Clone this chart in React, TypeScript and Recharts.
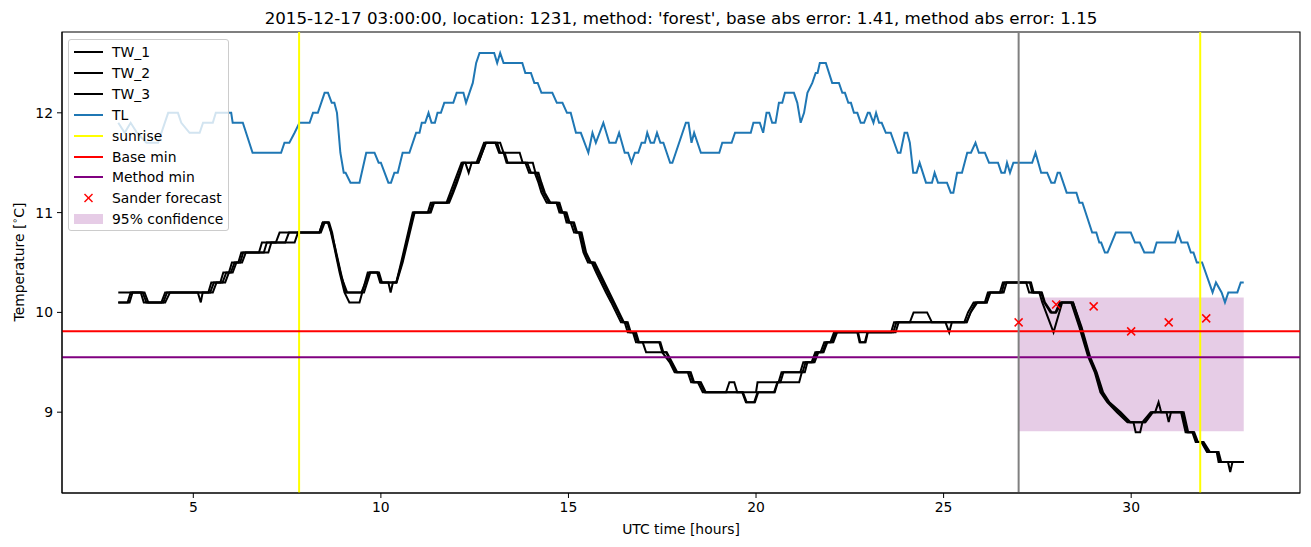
import React from 'react';
import {
    ComposedChart,
    Line,
    Scatter,
    XAxis,
    YAxis,
    ReferenceLine,
    ReferenceArea
} from 'recharts';

// water temperature sensors, [hour, degC]
const TW_1: [number, number][] = [
    [3.0, 10.2], [3.6, 10.2], [3.68, 10.1], [4.15, 10.1], [4.25, 10.2], [5.12, 10.2], [5.2, 10.1], [5.25, 10.2],
    [5.4, 10.2], [5.48, 10.3], [5.72, 10.3], [5.8, 10.4], [5.95, 10.4], [6.03, 10.5], [6.2, 10.5], [6.28, 10.6],
    [6.75, 10.6], [6.83, 10.7], [7.2, 10.7], [7.3, 10.8], [8.36, 10.8], [8.45, 10.9], [8.59, 10.9], [8.67, 10.8],
    [8.76, 10.65], [8.9, 10.4], [9.03, 10.2], [9.16, 10.1], [9.43, 10.1], [9.65, 10.4], [9.9, 10.4], [9.98, 10.3],
    [10.2, 10.3], [10.26, 10.2], [10.32, 10.3], [10.41, 10.3], [10.54, 10.5], [10.85, 11.0], [11.25, 11.0],
    [11.33, 11.1], [11.75, 11.1], [11.85, 11.2], [11.95, 11.3], [12.05, 11.4], [12.15, 11.5], [12.25, 11.5],
    [12.34, 11.4], [12.42, 11.5], [12.55, 11.5], [12.65, 11.6], [12.75, 11.7], [13.05, 11.7], [13.15, 11.6],
    [13.3, 11.6], [13.38, 11.5], [13.85, 11.5], [13.95, 11.4], [14.1, 11.4], [14.2, 11.3], [14.28, 11.2],
    [14.42, 11.1], [14.68, 11.1], [14.76, 11.0], [14.88, 11.0], [14.95, 10.9], [15.06, 10.9], [15.15, 10.8],
    [15.28, 10.8], [15.4, 10.6], [15.52, 10.5], [15.62, 10.5], [15.74, 10.4], [15.87, 10.3], [16.0, 10.2],
    [16.14, 10.1], [16.27, 10.0], [16.4, 9.9], [16.5, 9.9], [16.58, 9.8], [16.72, 9.8], [16.8, 9.7], [16.98, 9.7],
    [17.07, 9.6], [17.5, 9.6], [17.7, 9.5], [17.83, 9.4], [18.18, 9.4], [18.27, 9.3], [18.45, 9.3], [18.58, 9.2],
    [19.2, 9.2], [19.29, 9.3], [19.42, 9.3], [19.5, 9.2], [20.0, 9.2], [20.04, 9.3], [20.6, 9.3], [20.68, 9.4],
    [21.18, 9.4], [21.26, 9.5], [21.48, 9.5], [21.58, 9.6], [21.72, 9.6], [21.82, 9.7], [21.98, 9.7], [22.08, 9.8],
    [22.7, 9.8], [22.76, 9.7], [22.9, 9.7], [22.97, 9.8], [23.6, 9.8], [23.68, 9.9], [24.1, 9.9], [24.2, 10.0],
    [24.56, 10.0], [24.69, 9.9], [25.55, 9.9], [25.65, 10.0], [25.8, 10.1], [26.1, 10.1], [26.18, 10.2],
    [26.5, 10.2], [26.58, 10.3], [27.2, 10.3], [27.28, 10.2], [27.55, 10.2], [27.63, 10.1], [27.93, 9.8],
    [28.16, 10.1], [28.4, 10.1], [28.62, 9.85], [28.85, 9.56], [29.03, 9.4], [29.18, 9.2], [29.36, 9.1],
    [29.62, 9.0], [29.9, 8.9], [30.3, 8.9], [30.52, 9.0], [31.33, 9.0], [31.45, 8.8], [31.63, 8.8], [31.72, 8.7],
    [31.87, 8.7], [32.02, 8.6], [32.28, 8.6], [32.33, 8.5], [33.0, 8.5]
];

const TW_2: [number, number][] = [
    [3.0, 10.1], [3.25, 10.1], [3.33, 10.2], [3.65, 10.2], [3.75, 10.1], [4.2, 10.1], [4.3, 10.2], [5.45, 10.2],
    [5.55, 10.3], [5.78, 10.3], [5.88, 10.4], [6.0, 10.4], [6.1, 10.5], [6.25, 10.5], [6.33, 10.6], [6.88, 10.6],
    [6.96, 10.7], [7.45, 10.7], [7.55, 10.8], [8.36, 10.8], [8.45, 10.9], [8.6, 10.9], [8.68, 10.8], [8.78, 10.65],
    [8.93, 10.4], [9.06, 10.2], [9.55, 10.2], [9.72, 10.4], [9.92, 10.4], [10.0, 10.3], [10.41, 10.3],
    [10.56, 10.5], [10.87, 11.0], [11.3, 11.0], [11.38, 11.1], [11.78, 11.1], [11.9, 11.2], [12.0, 11.3],
    [12.1, 11.4], [12.18, 11.5], [12.6, 11.5], [12.7, 11.6], [12.8, 11.7], [13.18, 11.7], [13.27, 11.6],
    [13.35, 11.5], [13.9, 11.5], [14.0, 11.4], [14.15, 11.4], [14.24, 11.3], [14.33, 11.2], [14.48, 11.1],
    [14.72, 11.1], [14.8, 11.0], [14.92, 11.0], [15.0, 10.9], [15.12, 10.9], [15.2, 10.8], [15.32, 10.8],
    [15.44, 10.6], [15.57, 10.5], [15.66, 10.5], [15.79, 10.4], [15.92, 10.3], [16.05, 10.2], [16.19, 10.1],
    [16.32, 10.0], [16.45, 9.9], [16.55, 9.9], [16.63, 9.8], [16.76, 9.8], [16.85, 9.7], [17.42, 9.7],
    [17.5, 9.6], [17.6, 9.6], [17.74, 9.5], [17.87, 9.4], [18.23, 9.4], [18.32, 9.3], [18.5, 9.3], [18.63, 9.2],
    [19.63, 9.2], [19.73, 9.1], [19.95, 9.1], [20.04, 9.2], [20.48, 9.2], [20.57, 9.3], [20.65, 9.3],
    [20.73, 9.4], [21.24, 9.4], [21.32, 9.5], [21.52, 9.5], [21.62, 9.6], [21.77, 9.6], [21.87, 9.7],
    [22.02, 9.7], [22.12, 9.8], [22.72, 9.8], [22.78, 9.7], [22.92, 9.7], [22.98, 9.8], [23.66, 9.8],
    [23.74, 9.9], [25.05, 9.9], [25.15, 9.8], [25.22, 9.9], [25.62, 9.9], [25.72, 10.0], [25.85, 10.1],
    [26.15, 10.1], [26.22, 10.2], [26.55, 10.2], [26.62, 10.3], [27.3, 10.3], [27.36, 10.2], [27.6, 10.2],
    [27.68, 10.1], [27.85, 10.0], [27.98, 10.0], [28.1, 10.1], [28.45, 10.1], [28.66, 9.85], [28.88, 9.56],
    [29.06, 9.4], [29.22, 9.2], [29.4, 9.1], [29.68, 9.0], [29.95, 8.9], [30.06, 8.9], [30.12, 8.8],
    [30.24, 8.8], [30.3, 8.9], [30.36, 8.9], [30.56, 9.0], [30.64, 9.0], [30.73, 9.1], [30.8, 9.0],
    [31.36, 9.0], [31.49, 8.8], [31.66, 8.8], [31.75, 8.7], [31.9, 8.7], [32.06, 8.6], [32.3, 8.6],
    [32.36, 8.5], [32.58, 8.5], [32.64, 8.4], [32.7, 8.5], [33.0, 8.5]
];

const TW_3: [number, number][] = [
    [3.0, 10.1], [3.3, 10.1], [3.38, 10.2], [3.7, 10.2], [3.8, 10.1], [4.25, 10.1], [4.38, 10.2], [5.52, 10.2],
    [5.62, 10.3], [5.85, 10.3], [5.95, 10.4], [6.05, 10.4], [6.15, 10.5], [6.3, 10.5], [6.4, 10.6], [7.0, 10.6],
    [7.08, 10.7], [7.7, 10.7], [7.79, 10.8], [8.4, 10.8], [8.5, 10.9], [8.62, 10.9], [8.7, 10.8], [8.8, 10.6],
    [8.95, 10.35], [9.1, 10.2], [9.48, 10.2], [9.7, 10.4], [9.95, 10.4], [10.03, 10.3], [10.42, 10.3],
    [10.58, 10.5], [10.9, 11.0], [11.33, 11.0], [11.42, 11.1], [11.82, 11.1], [11.93, 11.2], [12.03, 11.3],
    [12.12, 11.4], [12.2, 11.5], [12.6, 11.5], [12.7, 11.6], [12.8, 11.7], [13.1, 11.7], [13.18, 11.6],
    [13.7, 11.6], [13.78, 11.5], [14.05, 11.5], [14.12, 11.4], [14.2, 11.4], [14.28, 11.3], [14.37, 11.2],
    [14.52, 11.1], [14.76, 11.1], [14.84, 11.0], [14.95, 11.0], [15.03, 10.9], [15.15, 10.9], [15.23, 10.8],
    [15.35, 10.8], [15.47, 10.6], [15.6, 10.5], [15.7, 10.5], [15.83, 10.4], [15.96, 10.3], [16.09, 10.2],
    [16.22, 10.1], [16.35, 10.0], [16.48, 9.9], [16.58, 9.9], [16.66, 9.8], [16.8, 9.8], [16.88, 9.7],
    [17.45, 9.7], [17.53, 9.6], [17.62, 9.6], [17.76, 9.5], [17.9, 9.4], [18.26, 9.4], [18.35, 9.3],
    [18.53, 9.3], [18.66, 9.2], [19.65, 9.2], [19.75, 9.1], [19.97, 9.1], [20.06, 9.2], [20.5, 9.2],
    [20.58, 9.3], [21.15, 9.3], [21.22, 9.4], [21.3, 9.4], [21.37, 9.5], [21.56, 9.5], [21.66, 9.6],
    [21.8, 9.6], [21.9, 9.7], [22.06, 9.7], [22.16, 9.8], [23.72, 9.8], [23.8, 9.9], [25.6, 9.9],
    [25.72, 10.0], [25.9, 10.1], [26.15, 10.1], [26.25, 10.2], [26.6, 10.2], [26.68, 10.3], [27.33, 10.3],
    [27.4, 10.2], [27.62, 10.2], [27.7, 10.1], [27.88, 10.0], [28.0, 10.0], [28.14, 10.1], [28.45, 10.1],
    [28.68, 9.85], [28.9, 9.56], [29.08, 9.4], [29.25, 9.2], [29.42, 9.1], [29.72, 9.0], [29.98, 8.9],
    [30.38, 8.9], [30.58, 9.0], [30.94, 9.0], [31.0, 8.9], [31.06, 9.0], [31.4, 9.0], [31.52, 8.8],
    [31.68, 8.8], [31.78, 8.7], [31.93, 8.7], [32.1, 8.6], [32.33, 8.6], [32.4, 8.5], [33.0, 8.5]
];

// air temperature
const TL: [number, number][] = [
    [3.0, 11.9], [3.17, 11.8], [3.33, 11.9], [3.5, 11.8], [3.75, 11.7], [4.06, 11.7], [4.33, 12.0], [4.59, 12.0],
    [4.68, 11.9], [4.9, 11.8], [5.17, 11.8], [5.26, 11.9], [5.52, 11.9], [5.6, 12.0], [6.01, 12.0], [6.05, 11.9],
    [6.32, 11.9], [6.58, 11.6], [7.34, 11.6], [7.43, 11.7], [7.56, 11.7], [7.7, 11.8], [7.83, 11.9], [8.1, 11.9],
    [8.19, 12.0], [8.32, 12.0], [8.5, 12.2], [8.59, 12.2], [8.69, 12.1], [8.76, 12.1], [8.83, 12.0], [8.92, 11.6],
    [9.01, 11.4], [9.06, 11.4], [9.19, 11.3], [9.43, 11.3], [9.61, 11.6], [9.83, 11.6], [9.94, 11.5], [10.0, 11.5],
    [10.2, 11.3], [10.27, 11.3], [10.36, 11.4], [10.45, 11.4], [10.58, 11.6], [10.76, 11.6], [10.94, 11.8],
    [11.03, 11.8], [11.09, 11.9], [11.18, 11.9], [11.27, 12.0], [11.35, 11.9], [11.44, 11.9], [11.51, 12.0],
    [11.6, 12.0], [11.69, 12.1], [11.93, 12.1], [12.02, 12.2], [12.2, 12.2], [12.27, 12.1], [12.45, 12.3],
    [12.54, 12.5], [12.63, 12.6], [13.02, 12.6], [13.1, 12.5], [13.18, 12.6], [13.27, 12.5], [13.77, 12.5],
    [13.85, 12.4], [14.0, 12.4], [14.09, 12.3], [14.18, 12.3], [14.28, 12.2], [14.57, 12.2], [14.69, 12.1],
    [14.84, 12.1], [14.96, 12.0], [15.06, 12.0], [15.2, 11.8], [15.33, 11.8], [15.53, 11.6], [15.64, 11.8],
    [15.73, 11.7], [15.93, 11.9], [16.09, 11.7], [16.26, 11.7], [16.35, 11.8], [16.5, 11.6], [16.59, 11.6],
    [16.68, 11.5], [16.77, 11.6], [16.86, 11.6], [16.95, 11.7], [17.04, 11.7], [17.1, 11.8], [17.19, 11.7],
    [17.28, 11.7], [17.36, 11.8], [17.45, 11.7], [17.53, 11.7], [17.71, 11.5], [17.77, 11.5], [18.13, 11.9],
    [18.2, 11.9], [18.28, 11.7], [18.35, 11.8], [18.53, 11.6], [19.02, 11.6], [19.1, 11.7], [19.35, 11.7],
    [19.44, 11.8], [19.86, 11.8], [19.93, 11.9], [20.1, 11.9], [20.19, 11.8], [20.28, 12.0], [20.35, 12.0],
    [20.43, 11.9], [20.52, 11.9], [20.61, 12.1], [20.7, 12.1], [20.77, 12.2], [21.01, 12.2], [21.1, 12.1],
    [21.19, 11.9], [21.28, 12.0], [21.37, 12.2], [21.5, 12.3], [21.59, 12.4], [21.64, 12.4], [21.7, 12.5],
    [21.86, 12.5], [22.03, 12.3], [22.21, 12.3], [22.3, 12.2], [22.37, 12.2], [22.46, 12.1], [22.53, 12.1],
    [22.61, 12.0], [22.7, 12.0], [22.79, 11.9], [22.88, 11.9], [22.98, 12.0], [23.03, 12.0], [23.13, 11.9],
    [23.2, 12.0], [23.28, 11.9], [23.35, 11.9], [23.46, 11.8], [23.59, 11.8], [23.78, 11.6], [23.85, 11.6],
    [23.96, 11.8], [24.03, 11.8], [24.1, 11.7], [24.19, 11.4], [24.28, 11.4], [24.36, 11.5], [24.53, 11.3],
    [24.69, 11.3], [24.76, 11.4], [24.85, 11.3], [25.09, 11.3], [25.19, 11.2], [25.26, 11.2], [25.36, 11.4],
    [25.49, 11.4], [25.63, 11.6], [25.73, 11.6], [25.85, 11.7], [25.94, 11.6], [26.1, 11.6], [26.21, 11.5],
    [26.45, 11.5], [26.54, 11.4], [26.63, 11.4], [26.69, 11.5], [26.77, 11.4], [26.86, 11.5], [27.36, 11.5],
    [27.45, 11.6], [27.6, 11.4], [27.76, 11.4], [27.87, 11.3], [27.96, 11.3], [28.04, 11.4], [28.1, 11.4],
    [28.28, 11.2], [28.54, 11.2], [28.62, 11.1], [28.7, 11.1], [28.96, 10.8], [29.07, 10.8], [29.15, 10.7],
    [29.2, 10.7], [29.3, 10.6], [29.37, 10.6], [29.59, 10.8], [29.99, 10.8], [30.1, 10.7], [30.23, 10.7],
    [30.35, 10.6], [30.6, 10.6], [30.68, 10.7], [31.17, 10.7], [31.25, 10.8], [31.34, 10.7], [31.5, 10.7],
    [31.59, 10.6], [31.66, 10.6], [31.75, 10.5], [31.89, 10.5], [32.17, 10.2], [32.26, 10.3], [32.41, 10.2],
    [32.5, 10.1], [32.59, 10.2], [32.83, 10.2], [32.92, 10.3], [33.0, 10.3]
];

const SUNRISE_HOURS = [7.82, 31.84];
const ISSUE_HOUR = 27;
const BASE_MIN = 9.81;
const METHOD_MIN = 9.55;
const FORECAST_HOURS = [27, 28, 29, 30, 31, 32];
const FORECAST_VALUES = [9.9, 10.08, 10.06, 9.81, 9.9, 9.94];
const CONF_RANGE = { from: 27, to: 33, low: 8.81, high: 10.15 };

const X_DOMAIN: [number, number] = [1.5, 34.5];
const Y_DOMAIN: [number, number] = [8.19, 12.81];
const X_TICKS = [5, 10, 15, 20, 25, 30];
const Y_TICKS = [9, 10, 11, 12];

const TITLE = "2015-12-17 03:00:00, location: 1231, method: 'forest', base abs error: 1.41, method abs error: 1.15";

const FONT = '"DejaVu Sans", sans-serif';
const TL_BLUE = '#1f77b4';
const LW = 2;

const toPoints = (s: [number, number][]) => s.map(([t, v]) => ({ t, v }));
const forecastPoints = FORECAST_HOURS.map((t, i) => ({ t, v: FORECAST_VALUES[i] }));

const XMark = (props: any) => {
    const { cx, cy } = props;
    if (cx == null || cy == null) return null;
    const r = 4;
    return (
        <g>
            <line x1={cx - r} y1={cy - r} x2={cx + r} y2={cy + r} stroke="red" strokeWidth={1.5} />
            <line x1={cx - r} y1={cy + r} x2={cx + r} y2={cy - r} stroke="red" strokeWidth={1.5} />
        </g>
    );
};

const LEGEND_ITEMS = [
    { label: 'TW_1', kind: 'line', color: '#000' },
    { label: 'TW_2', kind: 'line', color: '#000' },
    { label: 'TW_3', kind: 'line', color: '#000' },
    { label: 'TL', kind: 'line', color: TL_BLUE },
    { label: 'sunrise', kind: 'line', color: 'yellow' },
    { label: 'Base min', kind: 'line', color: 'red' },
    { label: 'Method min', kind: 'line', color: 'purple' },
    { label: 'Sander forecast', kind: 'x', color: 'red' },
    { label: '95% confidence', kind: 'patch', color: 'purple' }
];

const LegendBox = () => (
    <div
        style={{
            position: 'absolute',
            left: 68,
            top: 39,
            width: 161,
            height: 192,
            background: 'rgba(255,255,255,0.8)',
            border: '1px solid #cccccc',
            borderRadius: 3,
            boxSizing: 'border-box',
            fontFamily: FONT,
            fontSize: 13.9
        }}
    >
        {LEGEND_ITEMS.map((item, i) => (
            <div
                key={item.label}
                style={{ position: 'absolute', left: 0, top: 2 + i * 20.9, height: 20, display: 'flex', alignItems: 'center' }}
            >
                <svg width={40} height={20} style={{ display: 'block' }}>
                    {item.kind === 'line' && <line x1={5} y1={10} x2={34} y2={10} stroke={item.color} strokeWidth={LW} />}
                    {item.kind === 'x' && (
                        <g>
                            <line x1={15.5} y1={6} x2={23.5} y2={14} stroke="red" strokeWidth={1.5} />
                            <line x1={15.5} y1={14} x2={23.5} y2={6} stroke="red" strokeWidth={1.5} />
                        </g>
                    )}
                    {item.kind === 'patch' && <rect x={5} y={5} width={29} height={10} fill="purple" fillOpacity={0.2} />}
                </svg>
                <span style={{ marginLeft: 3, whiteSpace: 'nowrap' }}>{item.label}</span>
            </div>
        ))}
    </div>
);

export default function App() {
    return (
        <div style={{ position: 'absolute', left: 0, top: 0, width: 1311, height: 547, background: '#fff', fontFamily: FONT }}>
            <div
                style={{
                    position: 'absolute',
                    left: 681,
                    top: 18,
                    transform: 'translate(-50%, -50%)',
                    fontSize: 16.7,
                    whiteSpace: 'nowrap'
                }}
            >
                {TITLE}
            </div>
            <ComposedChart
                width={1311}
                height={547}
                margin={{ top: 32, right: 11, bottom: 24, left: 2 }}
                style={{ fontFamily: FONT }}
            >
                <XAxis
                    dataKey="t"
                    type="number"
                    domain={X_DOMAIN}
                    ticks={X_TICKS}
                    allowDataOverflow
                    height={30}
                    tickSize={5}
                    tickMargin={4}
                    stroke="#000"
                    tick={{ fill: '#000', fontSize: 13.9 }}
                />
                <YAxis
                    type="number"
                    domain={Y_DOMAIN}
                    ticks={Y_TICKS}
                    allowDataOverflow
                    width={60}
                    tickSize={5}
                    tickMargin={4}
                    stroke="#000"
                    tick={{ fill: '#000', fontSize: 13.9 }}
                />
                <ReferenceArea
                    x1={CONF_RANGE.from}
                    x2={CONF_RANGE.to}
                    y1={CONF_RANGE.low}
                    y2={CONF_RANGE.high}
                    fill="purple"
                    fillOpacity={0.2}
                    stroke="none"
                />
                <Line data={toPoints(TW_1)} dataKey="v" stroke="#000" strokeWidth={LW} dot={false} isAnimationActive={false} />
                <Line data={toPoints(TW_2)} dataKey="v" stroke="#000" strokeWidth={LW} dot={false} isAnimationActive={false} />
                <Line data={toPoints(TW_3)} dataKey="v" stroke="#000" strokeWidth={LW} dot={false} isAnimationActive={false} />
                <Line data={toPoints(TL)} dataKey="v" stroke={TL_BLUE} strokeWidth={LW} dot={false} isAnimationActive={false} />
                {SUNRISE_HOURS.map((h) => (
                    <ReferenceLine key={h} x={h} stroke="yellow" strokeWidth={LW} />
                ))}
                <ReferenceLine y={BASE_MIN} stroke="red" strokeWidth={LW} />
                <ReferenceLine y={METHOD_MIN} stroke="purple" strokeWidth={LW} />
                <ReferenceLine x={ISSUE_HOUR} stroke="grey" strokeWidth={LW} />
                <Scatter data={forecastPoints} dataKey="v" shape={<XMark />} isAnimationActive={false} />
                <ReferenceArea
                    x1={X_DOMAIN[0]}
                    x2={X_DOMAIN[1]}
                    y1={Y_DOMAIN[0]}
                    y2={Y_DOMAIN[1]}
                    fill="none"
                    stroke="#000"
                    strokeWidth={1.1}
                />
            </ComposedChart>
            <div
                style={{
                    position: 'absolute',
                    left: 681,
                    top: 529,
                    transform: 'translate(-50%, -50%)',
                    fontSize: 13.9,
                    whiteSpace: 'nowrap'
                }}
            >
                UTC time [hours]
            </div>
            <div
                style={{
                    position: 'absolute',
                    left: 18,
                    top: 262,
                    transform: 'translate(-50%, -50%) rotate(-90deg)',
                    fontSize: 13.9,
                    whiteSpace: 'nowrap'
                }}
            >
                Temperature [<sup style={{ fontSize: 9.5 }}>∘</sup>C]
            </div>
            <LegendBox />
        </div>
    );
}
